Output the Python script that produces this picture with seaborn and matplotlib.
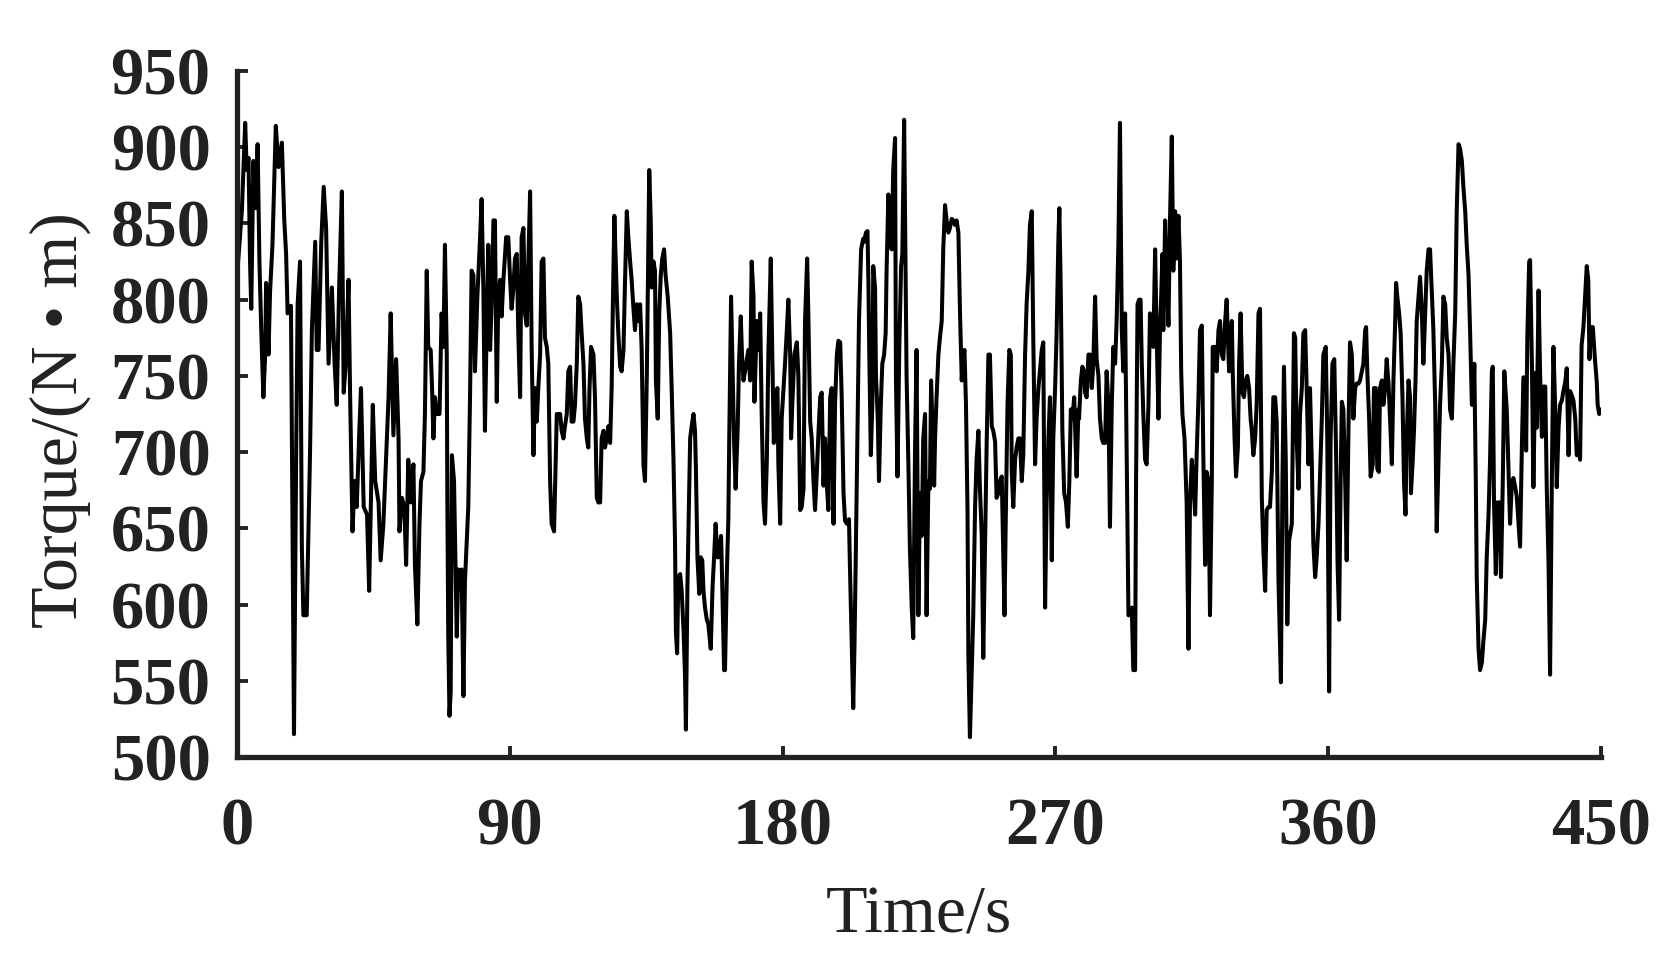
import numpy as np
import pandas as pd
import matplotlib
matplotlib.use("Agg")
import matplotlib.pyplot as plt
import seaborn as sns

# ---- data (time in s, torque in N*m), in segments ----
time_a = [0, 1.6, 2.7, 3.2, 3.8, 4.3, 4.7, 5.4, 6.0, 6.8, 7.4, 8.0, 8.7, 9.3, 9.6, 10.4, 10.9, 11.7, 12.8, 13.7,
          14.8, 15.6, 16.2, 16.7, 17.8, 18.3, 18.8, 19.5, 20.0, 20.8, 21.4, 21.9, 23.0, 23.6, 24.1, 24.7, 25.8, 26.3, 26.9, 27.8,
          28.6, 29.4, 30.2, 31.3, 32.2, 32.9, 33.7, 34.6, 35.2, 35.9, 36.8, 37.3, 38.1, 38.8, 39.5, 40.3, 40.9, 41.8, 42.9, 43.6,
          44.3, 44.8, 45.6, 46.7, 47.4, 48.3, 49.1, 50.0, 50.7, 51.6, 52.5, 53.3, 53.6, 54.4, 55.2, 55.8, 56.5, 57.4, 58.2, 58.7,
          59.5, 60.2, 60.7, 61.5, 62.0, 62.6, 63.1, 63.9, 64.4]
torque_a = [815, 858, 916, 885, 893, 825, 794, 891, 860, 902, 825, 780, 736, 764, 811, 764, 805, 836, 914, 887,
            903, 852, 830, 791, 796, 656, 515, 695, 797, 825, 637, 593, 593, 651, 700, 780, 838, 767, 767, 838,
            874, 847, 758, 808, 758, 731, 808, 871, 739, 758, 813, 739, 648, 681, 664, 711, 742, 664, 659, 609,
            681, 731, 681, 667, 629, 653, 692, 736, 791, 711, 761, 709, 648, 670, 664, 626, 695, 667, 692, 626,
            587, 653, 681, 687, 725, 819, 769, 767, 739]

time_b = [64.8, 65.3, 65.9, 66.8, 67.0, 67.5, 68.1, 68.6, 69.2, 69.4, 69.7, 70.1, 70.5, 70.9, 71.6, 72.0, 72.5, 73.0, 73.6, 74.1,
          74.7, 75.2, 75.8, 76.3, 76.9, 77.4, 78.0, 78.5, 79.3, 80.2, 80.7, 81.3, 81.8, 82.4, 82.9, 83.5, 84.0, 84.6, 85.1, 85.7,
          86.2, 86.8, 87.3, 87.9, 88.8, 89.5, 90.1, 90.6, 91.2, 91.7, 92.3, 92.8, 93.4, 93.9, 94.5, 95.0, 95.6, 96.7, 97.2, 97.8,
          98.3, 98.9, 99.4, 100.0, 100.5, 101.1, 101.6, 102.2, 102.7, 103.3, 103.8, 104.6, 105.0, 105.5, 106.6, 107.1, 107.7, 108.2, 108.8, 109.3,
          109.9, 110.4, 111.0, 111.5, 112.1, 112.6, 113.2, 113.7, 114.3, 114.8, 115.4, 115.9, 116.3, 116.8, 117.6, 118.1, 118.7, 119.2, 119.8, 120.3,
          120.9, 121.4, 122.0, 122.5, 123.1, 123.6, 124.0, 124.5, 125.3, 125.8, 126.4, 126.9, 127.5, 128.0, 128.6, 129.1, 129.7, 130.2, 130.8, 131.3,
          131.9, 132.4, 133.0, 133.5, 134.1, 134.6, 135.2, 135.7, 136.0]
torque_b = [709, 736, 725, 725, 742, 791, 769, 836, 764, 667, 579, 527, 543, 698, 681, 637, 579, 623, 618, 623,
            540, 615, 642, 664, 739, 819, 816, 753, 802, 841, 866, 805, 714, 786, 836, 767, 797, 852, 852, 733,
            802, 813, 789, 813, 841, 841, 813, 794, 808, 827, 830, 778, 736, 841, 847, 791, 783, 871, 769, 698,
            742, 720, 742, 764, 825, 827, 775, 769, 758, 681, 653, 648, 681, 725, 725, 714, 709, 717, 725, 753,
            756, 720, 720, 731, 758, 802, 797, 778, 758, 722, 709, 703, 742, 769, 764, 736, 670, 667, 667, 709,
            714, 703, 709, 717, 706, 742, 797, 855, 802, 778, 756, 753, 767, 811, 858, 841, 825, 813, 794, 780,
            797, 786, 797, 767, 692, 681, 750, 833, 885]

time_c = [136.5, 136.8, 137.4, 137.9, 138.2, 138.8, 139.3, 139.8, 140.3, 140.9, 141.4, 142.1, 142.9, 143.4, 144.0, 144.5, 144.8, 145.2, 145.6, 146.2,
          146.7, 147.3, 147.8, 148.1, 148.6, 148.9, 149.5, 150.0, 150.6, 151.1, 151.4, 151.9, 152.5, 153.0, 153.5, 153.9, 154.4, 155.0, 155.5, 156.3,
          156.9, 157.4, 157.9, 158.5, 158.8, 159.7, 160.1, 160.7, 161.0, 161.6, 162.1, 162.4, 163.0, 163.4, 164.0, 164.5, 165.2, 165.6, 166.2, 166.6,
          167.1, 167.6, 168.7, 169.3, 169.8, 170.4, 170.7, 171.5, 172.0, 172.6, 173.1, 173.7, 174.2, 174.8, 175.3, 176.1, 176.6, 177.1, 177.7, 178.3,
          178.6, 179.2, 179.7, 180.3, 180.8, 181.4, 181.9, 182.5, 182.8, 183.2, 183.9, 184.7, 185.2, 185.8, 186.3, 186.9, 187.4, 188.1, 188.5, 189.1,
          189.6, 190.2, 190.7, 191.3, 191.8, 192.4, 192.9, 193.5, 194.0, 194.6, 195.1, 195.7, 196.2, 196.8, 197.3, 197.9, 198.4, 199.0, 199.5, 200.1,
          200.6, 201.2, 201.9, 202.2, 202.8, 203.3, 203.7, 204.1, 204.8, 205.2, 205.9, 206.6]
torque_c = [852, 808, 825, 819, 747, 722, 791, 816, 827, 833, 816, 802, 778, 742, 695, 642, 582, 568, 618, 620,
            609, 584, 554, 518, 612, 645, 709, 717, 725, 714, 689, 631, 607, 631, 629, 609, 598, 590, 587, 571,
            612, 631, 653, 631, 631, 645, 612, 557, 557, 620, 656, 709, 802, 764, 706, 676, 717, 758, 789, 764,
            747, 753, 767, 747, 825, 802, 733, 786, 767, 791, 725, 667, 653, 695, 764, 827, 764, 706, 736, 742,
            692, 653, 722, 742, 758, 780, 800, 764, 709, 731, 764, 772, 750, 662, 664, 676, 786, 827, 789, 720,
            709, 681, 662, 687, 711, 736, 739, 678, 709, 678, 662, 736, 742, 653, 731, 764, 773, 772, 736, 673,
            655, 653, 656, 626, 576, 532, 571, 626, 731, 786, 833, 840]

time_d = [206.9, 207.5, 208.0, 208.3, 208.6, 209.1, 209.6, 209.9, 210.5, 210.8, 211.4, 211.8, 212.4, 212.9, 213.5, 214.0, 214.3, 214.9, 215.4, 216.0,
          216.5, 217.1, 217.4, 217.9, 218.5, 219.1, 219.5, 220.1, 220.6, 220.9, 221.5, 222.0, 222.6, 223.1, 223.7, 224.2, 224.8, 225.3, 225.9, 226.4,
          227.0, 227.5, 228.1, 228.6, 229.0, 229.4, 230.0, 230.3, 230.8, 231.4, 231.9, 232.5, 233.0, 233.6, 234.1, 234.7, 235.2, 235.8, 236.3, 236.9,
          237.4, 238.0, 238.5, 239.1, 239.6, 240.0, 240.5, 241.0, 241.3, 241.8, 242.4, 242.9, 243.5, 244.0, 244.6, 245.1, 245.7, 246.2, 246.8, 247.3,
          247.9, 248.4, 249.0, 249.5, 250.1, 250.6, 251.2, 251.7, 252.3, 252.6, 253.2, 253.6, 254.2, 254.8, 255.3, 255.6, 256.1, 256.7, 257.2, 257.8,
          258.3, 258.9, 259.4, 260.0, 260.5, 261.1, 261.6, 262.2, 262.7, 263.3, 263.8, 264.4, 264.9, 265.5, 266.0, 266.6, 267.1, 267.7, 268.2, 268.8,
          269.3, 269.9, 270.4, 271.0, 271.3, 271.8, 272.3, 272.9, 273.5, 274.1, 274.6, 275.1, 275.6, 276.2, 277.0, 277.6]
torque_d = [838, 844, 845, 813, 764, 698, 731, 822, 808, 750, 722, 681, 731, 758, 764, 778, 819, 869, 836, 833,
            885, 906, 747, 684, 769, 822, 830, 918, 808, 750, 692, 637, 598, 578, 703, 767, 593, 673, 645, 709,
            725, 593, 681, 676, 747, 720, 678, 709, 736, 764, 775, 786, 833, 862, 852, 844, 847, 853, 852, 849,
            852, 844, 794, 747, 764, 767, 731, 662, 565, 513, 557, 593, 664, 695, 714, 676, 645, 565, 640, 703,
            764, 764, 717, 714, 707, 670, 673, 681, 684, 653, 593, 653, 731, 767, 764, 687, 664, 695, 703, 709,
            709, 681, 698, 764, 797, 819, 849, 858, 775, 692, 722, 742, 753, 767, 772, 598, 667, 709, 736, 629,
            709, 742, 778, 841, 860, 802, 714, 673, 667, 651, 681, 728, 722, 736, 684, 728]

time_e = [277.8, 278.4, 278.9, 279.5, 279.8, 280.3, 280.9, 281.4, 282.0, 282.5, 283.1, 283.6, 284.2, 284.7, 285.3, 285.8, 286.4, 286.9, 287.5, 288.0,
          288.6, 289.1, 289.7, 290.2, 290.8, 291.3, 291.9, 292.4, 293.0, 293.5, 294.1, 294.6, 295.2, 295.7, 296.3, 296.6, 297.1, 297.6, 298.1, 298.5,
          299.0, 299.6, 300.1, 300.7, 301.2, 301.8, 302.3, 302.9, 303.4, 304.0, 304.5, 304.9, 305.3, 305.6, 306.2, 306.7, 307.3, 307.8, 308.4, 308.9,
          309.5, 310.0, 310.6, 311.1, 311.5, 311.9, 312.6, 313.3, 313.9, 314.4, 315.0, 315.5, 316.1, 316.6, 317.2, 317.7, 318.3, 318.8, 319.4, 319.9,
          320.5, 321.0, 321.6, 321.9, 322.7, 323.2, 323.8, 324.3, 324.9, 325.4, 326.0, 326.5, 326.9, 327.3, 327.6, 328.2, 328.5, 329.1, 329.6, 330.2,
          330.6, 331.1, 331.7, 332.2, 332.8, 333.3, 333.9, 334.4, 334.8, 335.3, 335.9, 336.4, 337.0, 337.5, 338.1, 338.6, 339.2, 339.7, 340.3, 340.8,
          341.4, 341.9, 342.5, 343.0, 343.6, 344.4, 344.9, 345.4, 346.0, 346.5, 347.1, 348.0, 348.7]
torque_e = [722, 747, 756, 753, 739, 736, 764, 764, 742, 758, 802, 761, 750, 722, 709, 706, 706, 753, 731, 651,
            731, 769, 758, 786, 838, 916, 780, 753, 791, 700, 593, 593, 598, 557, 557, 678, 797, 800, 800, 758,
            725, 695, 692, 731, 791, 778, 769, 833, 778, 722, 780, 802, 830, 780, 852, 816, 783, 852, 907, 819,
            858, 827, 855, 825, 753, 725, 709, 667, 571, 667, 695, 681, 659, 698, 736, 780, 783, 698, 626, 687,
            681, 593, 681, 769, 769, 753, 780, 786, 764, 761, 786, 800, 775, 753, 764, 786, 753, 709, 684, 703,
            758, 791, 739, 736, 747, 750, 742, 722, 714, 698, 709, 731, 791, 794, 670, 637, 609, 662, 664, 664,
            687, 736, 736, 720, 615, 549, 681, 756, 695, 587, 642, 653, 778]

time_f = [349.1, 349.6, 350.2, 350.7, 351.3, 351.8, 352.4, 352.9, 353.5, 354.0, 354.6, 355.1, 355.7, 356.2, 356.8, 357.3, 357.9, 358.4, 359.2, 359.7,
          360.3, 360.8, 361.4, 362.0, 362.6, 363.1, 363.6, 364.1, 364.5, 365.0, 365.6, 366.1, 366.7, 367.2, 367.8, 368.3, 368.9, 369.4, 370.0, 370.5,
          371.1, 371.6, 372.2, 372.5, 372.9, 373.5, 374.0, 374.7, 375.1, 375.7, 376.2, 376.7, 377.1, 377.7, 378.2, 378.8, 379.3, 379.9, 380.4, 381.0,
          381.5, 382.1, 382.4, 382.8, 383.4, 383.9, 384.5, 385.0, 385.5, 385.9, 386.5, 387.0, 387.3, 387.9, 388.3, 388.8, 389.2, 389.8, 390.3, 390.9,
          391.4, 392.0, 392.5, 393.1, 393.6, 394.2, 394.7, 395.3, 395.8, 396.4, 396.9, 397.5, 398.0, 398.6, 399.1, 399.7, 400.2, 400.8, 401.3, 401.9,
          402.4, 403.0, 403.5, 404.1, 404.6, 405.2, 405.7, 406.3, 406.8, 407.4, 407.9, 408.2, 408.7, 409.0, 409.6, 410.1, 410.7, 411.2, 411.8, 412.3,
          412.9, 413.4, 414.0, 414.3, 414.7, 415.3, 415.8, 416.5, 417.0, 417.6, 418.1]
torque_f = [775, 709, 676, 725, 742, 778, 780, 742, 692, 742, 692, 640, 618, 631, 653, 684, 722, 764, 769, 709,
            543, 709, 758, 761, 700, 626, 590, 681, 733, 728, 681, 629, 717, 772, 764, 722, 742, 745, 745, 747,
            753, 758, 780, 782, 753, 722, 684, 692, 742, 742, 689, 687, 742, 747, 731, 742, 761, 745, 722, 692,
            745, 786, 811, 802, 791, 778, 736, 681, 659, 709, 747, 736, 673, 695, 714, 747, 786, 802, 815, 791,
            758, 791, 819, 833, 833, 805, 780, 731, 648, 695, 731, 758, 802, 797, 775, 764, 728, 722, 758, 791,
            858, 902, 899, 891, 874, 858, 836, 816, 780, 731, 733, 758, 681, 618, 571, 557, 562, 576, 590, 631,
            659, 695, 753, 756, 667, 620, 667, 667, 618, 681, 753]

time_g = [418.9, 419.5, 420.0, 420.6, 421.1, 421.7, 422.2, 422.8, 423.3, 423.9, 424.4, 425.0, 425.3, 425.7, 426.3, 426.6, 427.2, 427.7, 428.3, 428.8,
          429.4, 429.9, 430.5, 431.0, 431.6, 432.1, 432.7, 433.2, 433.8, 434.3, 434.9, 435.4, 436.0, 436.5, 437.1, 437.6, 438.2, 438.7, 439.3, 439.8,
          440.4, 440.9, 441.5, 442.0, 442.6, 443.1, 443.6, 444.2, 444.7, 445.3, 445.8, 446.2, 446.6, 447.3, 448.0, 448.6, 448.9, 449.4, 450.0]
torque_g = [728, 686, 653, 680, 683, 677, 671, 653, 638, 704, 749, 749, 701, 776, 825, 826, 758, 677, 752, 716,
            806, 752, 710, 743, 743, 677, 626, 554, 686, 769, 728, 677, 716, 731, 734, 740, 746, 755, 698, 740,
            737, 734, 722, 698, 701, 695, 770, 782, 800, 822, 813, 761, 782, 782, 761, 746, 731, 725, 728]

x_ticks = [0, 90, 180, 270, 360, 450]
y_ticks = [500, 550, 600, 650, 700, 750, 800, 850, 900, 950]
x_label = "Time/s"
y_label = "Torque/(N • m)"

df = pd.DataFrame({
    "time": np.concatenate([time_a, time_b, time_c, time_d, time_e, time_f, time_g]),
    "torque": np.concatenate([torque_a, torque_b, torque_c, torque_d, torque_e, torque_f, torque_g]),
})

sns.set_style("ticks")
plt.rcParams["font.family"] = ["Liberation Serif", "DejaVu Serif"]

W, H = 1669, 963
fig = plt.figure(figsize=(W / 100, H / 100), dpi=100)
x0, x1, y_top, y_bot = 237, 1601, 71, 757
ax = fig.add_axes([x0 / W, 1 - y_bot / H, (x1 - x0) / W, (y_bot - y_top) / H])

sns.lineplot(data=df, x="time", y="torque", ax=ax, color="black", linewidth=2.9,
             estimator=None, sort=False)

ax.set_xlim(0, 450)
ax.set_ylim(500, 950)
ax.set_xticks(x_ticks)
ax.set_yticks(y_ticks)
ax.set_xlabel("")
ax.set_ylabel("")
sns.despine(ax=ax)
axis_col = "#222222"
for side in ["left", "bottom"]:
    ax.spines[side].set_linewidth(3.8)
    ax.spines[side].set_color(axis_col)
ax.tick_params(direction="in", length=8, width=2.8, color=axis_col,
               labelsize=48, labelcolor=axis_col)
ax.tick_params(axis="y", pad=19)
ax.tick_params(axis="x", pad=29)
for lab in ax.get_xticklabels() + ax.get_yticklabels():
    lab.set_fontweight("bold")
    lab.set_family(["Liberation Serif", "DejaVu Serif"])

fig.text((x0 + x1) / 2 / W, 1 - 916 / H, x_label, ha="center", va="center",
         fontsize=49, color=axis_col, family=["Liberation Serif", "DejaVu Serif"])
fig.text(60 / W, 1 - 420 / H, y_label, ha="center", va="center", rotation=90,
         fontsize=49, color=axis_col, family=["Liberation Serif", "DejaVu Serif"])

fig.savefig("out.png", dpi=100)
